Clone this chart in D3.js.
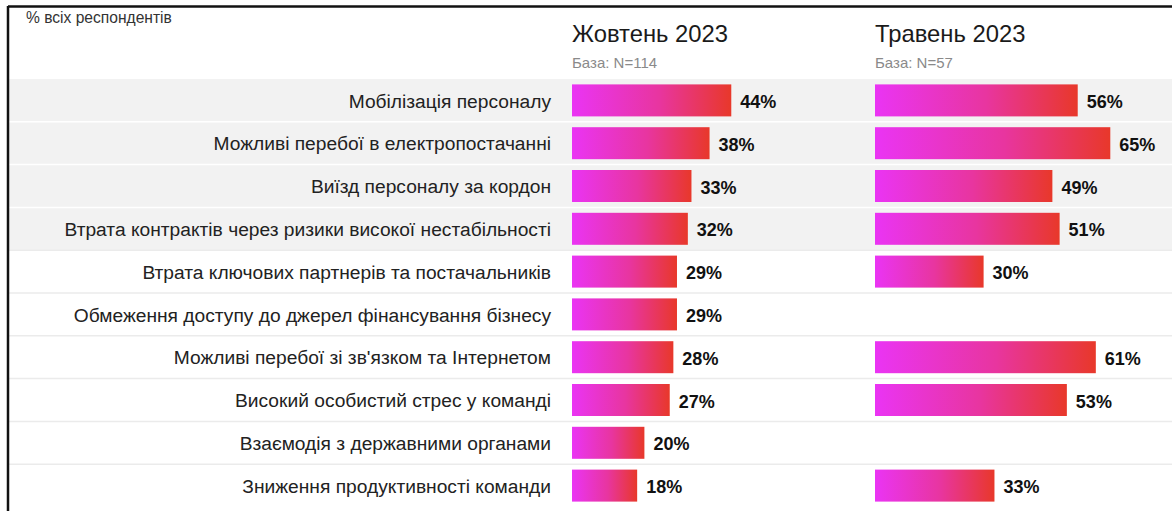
<!DOCTYPE html>
<html><head><meta charset="utf-8">
<script src="https://cdn.jsdelivr.net/npm/d3@7"></script>
<style>
html,body{margin:0;padding:0;background:#fff;}
svg{display:block;font-family:"Liberation Sans",Arial,Helvetica,sans-serif;}
</style></head><body>
<svg id="chart" width="1172" height="511"></svg>
<script>
const categories = [
  "Мобілізація персоналу",
  "Можливі перебої в електропостачанні",
  "Виїзд персоналу за кордон",
  "Втрата контрактів через ризики високої нестабільності",
  "Втрата ключових партнерів та постачальників",
  "Обмеження доступу до джерел фінансування бізнесу",
  "Можливі перебої зі зв'язком та Інтернетом",
  "Високий особистий стрес у команді",
  "Взаємодія з державними органами",
  "Зниження продуктивності команди"
];
const october2023 = [44, 38, 33, 32, 29, 29, 28, 27, 20, 18];
const may2023 = [56, 65, 49, 51, 30, null, 61, 53, null, 33];
const panelTitles = ["Жовтень 2023", "Травень 2023"];
const panelBases = ["База: N=114", "База: N=57"];
const highlightedRows = 4;
const subtitle = "% всіх респондентів";

const svg = d3.select("#chart");
const W = 1172, H = 511;

const defs = svg.append("defs");
const grad = defs.append("linearGradient").attr("id","barGrad")
  .attr("x1","0%").attr("x2","100%").attr("y1","0%").attr("y2","0%");
grad.append("stop").attr("offset","0%").attr("stop-color","#ea34f4");
grad.append("stop").attr("offset","55%").attr("stop-color","#e8359f");
grad.append("stop").attr("offset","100%").attr("stop-color","#e8382a");

const y = d3.scaleBand().domain(categories).range([79, 507]).paddingInner(0).paddingOuter(0);
const barPad = 5.4;
const x = d3.scaleLinear().domain([0, 100]).range([0, 362]);
const panelX = [572, 875];

// row backgrounds
svg.append("g").selectAll("rect").data(categories).join("rect")
  .attr("x", 9).attr("width", W - 9)
  .attr("y", d => y(d)).attr("height", y.bandwidth())
  .attr("fill", (d,i) => i < highlightedRows ? "#f2f2f2" : "#ffffff");
// separators
svg.append("g").selectAll("line").data(categories.slice(1)).join("line")
  .attr("x1", 9).attr("x2", W)
  .attr("y1", d => y(d)).attr("y2", d => y(d))
  .attr("stroke", (d,i) => i + 1 < highlightedRows ? "#ffffff" : "#ebebeb")
  .attr("stroke-width", 1.5);

// border
svg.append("line").attr("x1",8).attr("x2",W).attr("y1",6.5).attr("y2",6.5).attr("stroke","#111").attr("stroke-width",2.5);
svg.append("line").attr("x1",8).attr("x2",8).attr("y1",6).attr("y2",H).attr("stroke","#111").attr("stroke-width",2.5);

svg.append("text").attr("x", 26).attr("y", 23).attr("font-size", 15.6).attr("fill", "#333").text(subtitle);

// category labels
svg.append("g").selectAll("text").data(categories).join("text")
  .attr("x", 551).attr("y", d => y(d) + y.bandwidth()/2)
  .attr("dy", "0.37em").attr("text-anchor","end")
  .attr("font-size", 19.2).attr("fill", "#222").text(d => d);

[october2023, may2023].forEach((vals, p) => {
  const g = svg.append("g").attr("transform", `translate(${panelX[p]},0)`);
  g.append("text").attr("x", 0).attr("y", 42).attr("font-size", 23.8).attr("fill", "#1a1a1a").text(panelTitles[p]);
  g.append("text").attr("x", 0).attr("y", 68).attr("font-size", 15).attr("fill", "#8a8a8a").text(panelBases[p]);
  const data = categories.map((c, i) => ({c, v: vals[i]})).filter(d => d.v != null);
  g.selectAll("rect.bar").data(data).join("rect").attr("class","bar")
    .attr("x", x(0)).attr("y", d => y(d.c) + barPad)
    .attr("width", d => x(d.v) - x(0)).attr("height", y.bandwidth() - 2*barPad)
    .attr("fill", "url(#barGrad)");
  g.selectAll("text.val").data(data).join("text").attr("class","val")
    .attr("x", d => x(d.v) + 9).attr("y", d => y(d.c) + y.bandwidth()/2)
    .attr("dy", "0.42em").attr("font-size", 18).attr("font-weight", "bold")
    .attr("fill", "#111").text(d => d.v + "%");
});
</script>
</body></html>
